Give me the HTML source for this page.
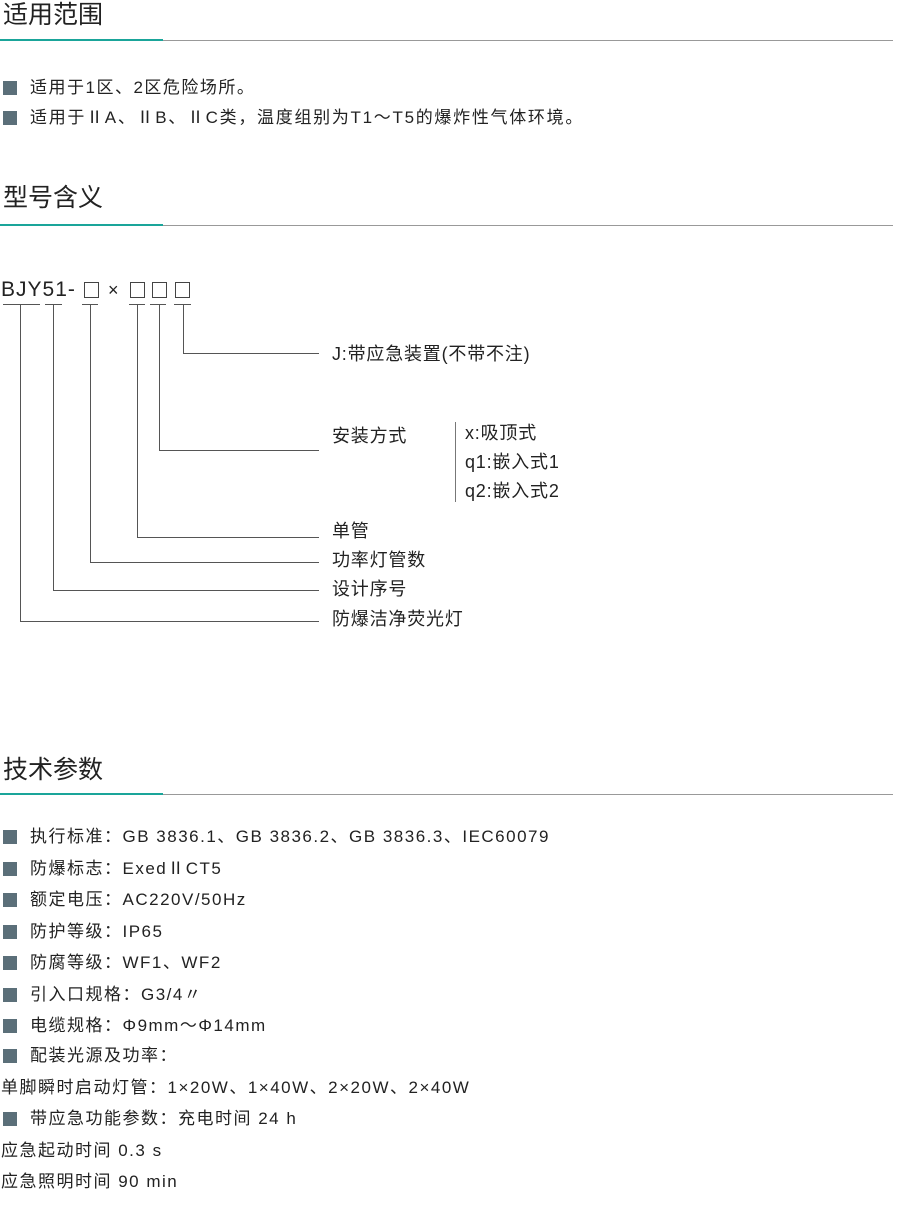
<!DOCTYPE html>
<html><head><meta charset="utf-8"><style>
body{margin:0;width:900px;height:1220px;background:#fff;position:relative;font-family:"Liberation Sans","Noto Sans CJK SC",sans-serif;color:#222;overflow:hidden}
.a{position:absolute;white-space:nowrap}
.h{font-size:25px;left:3px;line-height:28px;color:#222}
.hl{position:absolute;left:0;width:893px;height:1px;background:#999}
.hl i{position:absolute;left:0;top:-1px;width:163px;height:2px;background:#1aa59a}
.t{font-size:17px;line-height:20px;letter-spacing:1.5px}
.d{font-size:18px;line-height:20px;letter-spacing:0.8px}
.b{position:absolute;width:14px;height:14px;background:#5b6f79;left:3px}
.ln{position:absolute;background:#555}
</style></head><body>
<div class="a h" style="top:1px">适用范围</div>
<div class="hl" style="top:40px"><i></i></div>
<div class="b" style="top:81px"></div><div class="a t" style="left:30px;top:78px">适用于1区、2区危险场所。</div>
<div class="b" style="top:111px"></div><div class="a t" style="left:30px;top:108px;letter-spacing:1.7px">适用于ⅡA、ⅡB、ⅡC类，温度组别为T1～T5的爆炸性气体环境。</div>

<div class="a h" style="top:184px">型号含义</div>
<div class="hl" style="top:225px"><i></i></div>

<div class="a" style="left:1px;top:278px;font-size:21px;letter-spacing:1px">BJY51-</div>
<div class="a" style="left:84px;top:282px;width:13px;height:14px;border:1px solid #444"></div>
<div class="a" style="left:108px;top:280px;font-size:18px">×</div>
<div class="a" style="left:130px;top:282px;width:13px;height:14px;border:1px solid #444"></div>
<div class="a" style="left:152px;top:282px;width:13px;height:14px;border:1px solid #444"></div>
<div class="a" style="left:175px;top:282px;width:13px;height:14px;border:1px solid #444"></div>
<div class="ln" style="left:3px;top:304px;width:37px;height:1px"></div>
<div class="ln" style="left:45px;top:304px;width:17px;height:1px"></div>
<div class="ln" style="left:82px;top:304px;width:16px;height:1px"></div>
<div class="ln" style="left:129px;top:304px;width:16px;height:1px"></div>
<div class="ln" style="left:150px;top:304px;width:16px;height:1px"></div>
<div class="ln" style="left:174px;top:304px;width:17px;height:1px"></div>
<div class="ln" style="left:183px;top:304px;width:1px;height:49px"></div>
<div class="ln" style="left:183px;top:353px;width:136px;height:1px"></div>
<div class="ln" style="left:159px;top:304px;width:1px;height:146px"></div>
<div class="ln" style="left:159px;top:450px;width:160px;height:1px"></div>
<div class="ln" style="left:137px;top:304px;width:1px;height:233px"></div>
<div class="ln" style="left:137px;top:537px;width:182px;height:1px"></div>
<div class="ln" style="left:90px;top:304px;width:1px;height:258px"></div>
<div class="ln" style="left:90px;top:562px;width:229px;height:1px"></div>
<div class="ln" style="left:53px;top:304px;width:1px;height:286px"></div>
<div class="ln" style="left:53px;top:590px;width:266px;height:1px"></div>
<div class="ln" style="left:20px;top:304px;width:1px;height:317px"></div>
<div class="ln" style="left:20px;top:621px;width:299px;height:1px"></div>
<div class="ln" style="left:455px;top:422px;width:1px;height:80px;background:#777"></div>
<div class="a d" style="left:332px;top:344px">J:带应急装置(不带不注)</div>
<div class="a d" style="left:332px;top:426px">安装方式</div>
<div class="a d" style="left:465px;top:423px">x:吸顶式</div>
<div class="a d" style="left:465px;top:452px">q1:嵌入式1</div>
<div class="a d" style="left:465px;top:481px">q2:嵌入式2</div>
<div class="a d" style="left:332px;top:521px">单管</div>
<div class="a d" style="left:332px;top:550px">功率灯管数</div>
<div class="a d" style="left:332px;top:579px">设计序号</div>
<div class="a d" style="left:332px;top:609px">防爆洁净荧光灯</div>

<div class="a h" style="top:756px">技术参数</div>
<div class="hl" style="top:794px"><i></i></div>

<div class="b" style="top:830px"></div><div class="a t" style="left:30px;top:827px">执行标准：GB 3836.1、GB 3836.2、GB 3836.3、IEC60079</div>
<div class="b" style="top:862px"></div><div class="a t" style="left:30px;top:859px">防爆标志：ExedⅡCT5</div>
<div class="b" style="top:893px"></div><div class="a t" style="left:30px;top:890px">额定电压：AC220V/50Hz</div>
<div class="b" style="top:925px"></div><div class="a t" style="left:30px;top:922px">防护等级：IP65</div>
<div class="b" style="top:956px"></div><div class="a t" style="left:30px;top:953px">防腐等级：WF1、WF2</div>
<div class="b" style="top:988px"></div><div class="a t" style="left:30px;top:985px">引入口规格：G3/4〃</div>
<div class="b" style="top:1019px"></div><div class="a t" style="left:30px;top:1016px">电缆规格：Φ9mm～Φ14mm</div>
<div class="b" style="top:1049px"></div><div class="a t" style="left:30px;top:1046px">配装光源及功率：</div>
<div class="a t" style="left:1px;top:1078px">单脚瞬时启动灯管：1×20W、1×40W、2×20W、2×40W</div>
<div class="b" style="top:1112px"></div><div class="a t" style="left:30px;top:1109px">带应急功能参数：充电时间 24 h</div>
<div class="a t" style="left:1px;top:1141px">应急起动时间 0.3 s</div>
<div class="a t" style="left:1px;top:1172px">应急照明时间 90 min</div>
</body></html>
